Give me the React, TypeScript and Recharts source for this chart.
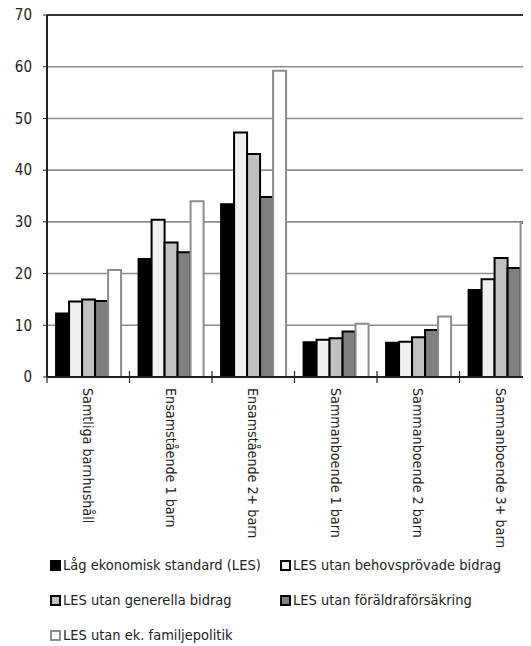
import React from 'react';
import { BarChart, Bar, XAxis, YAxis, CartesianGrid, ReferenceLine } from 'recharts';

const categories = [
  'Samtliga barnhushåll',
  'Ensamstående 1 barn',
  'Ensamstående 2+ barn',
  'Sammanboende 1 barn',
  'Sammanboende 2 barn',
  'Sammanboende 3+ barn',
];
const les = [12.3, 22.8, 33.4, 6.7, 6.6, 16.8];
const behov = [14.6, 30.4, 47.3, 7.2, 6.8, 18.9];
const generella = [15.0, 26.0, 43.1, 7.5, 7.7, 23.0];
const foraldra = [14.7, 24.1, 34.8, 8.8, 9.1, 21.1];
const familj = [20.7, 34.0, 59.2, 10.3, 11.7, 29.8];
const yTicks = [0, 10, 20, 30, 40, 50, 60, 70];

const seriesNames = [
  'Låg ekonomisk standard (LES)',
  'LES utan behovsprövade bidrag',
  'LES utan generella bidrag',
  'LES utan föräldraförsäkring',
  'LES utan ek. familjepolitik',
];

const data = categories.map((c, i) => ({
  name: c,
  s0: les[i],
  s1: behov[i],
  s2: generella[i],
  s3: foraldra[i],
  s4: familj[i],
}));

const FONT = '"Liberation Sans Narrow", "DejaVu Sans Condensed", "Roboto Condensed", sans-serif';

const seriesStyle = [
  { fill: '#000000', stroke: '#000000' },
  { fill: '#f0f0f0', stroke: '#000000' },
  { fill: '#c0c0c0', stroke: '#000000' },
  { fill: '#808080', stroke: '#000000' },
  { fill: '#ffffff', stroke: '#8c8c8c' },
];

const CatTick = (props: any) => {
  const { x, y, payload, width } = props;
  const band = width / categories.length;
  const lx = x - band / 2;
  return (
    <g>
      <line x1={lx} x2={lx} y1={y - 6} y2={y + 6} stroke="#222" strokeWidth={1.2} />
      <text
        x={x}
        y={y + 11}
        transform={`rotate(90, ${x}, ${y + 11})`}
        textAnchor="start"
        dy="0.36em"
        fontSize={14.2}
        fontFamily={FONT}
        fill="#222"
      >
        {payload.value}
      </text>
    </g>
  );
};

const legendPos = [
  { left: 42, top: 557 },
  { left: 272, top: 557 },
  { left: 42, top: 592 },
  { left: 272, top: 592 },
  { left: 42, top: 627 },
];

export default function App() {
  return (
    <div style={{ position: 'relative', top: -8, width: 523, height: 646, overflow: 'hidden', fontFamily: FONT }}>
      <BarChart
        width={540}
        height={547}
        data={data}
        margin={{ top: 15, right: 6, left: 0, bottom: 0 }}
        barCategoryGap="11%"
        barGap={0}
      >
        <CartesianGrid horizontal vertical={false} stroke="#8c8c8c" strokeWidth={1.6} />
        <YAxis
          width={39}
          domain={[0, 70]}
          ticks={yTicks}
          interval={0}
          tickSize={4}
          tickMargin={11}
          axisLine={{ stroke: '#222', strokeWidth: 2 }}
          tickLine={{ stroke: '#222' }}
          tick={{ fontSize: 15, fill: '#222', fontFamily: FONT }}
        />
        <XAxis
          dataKey="name"
          height={170}
          interval={0}
          tickSize={0}
          tickMargin={0}
          tickLine={false}
          axisLine={{ stroke: '#222', strokeWidth: 2 }}
          tick={<CatTick />}
        />
        <ReferenceLine y={70} stroke="#333" strokeWidth={2} />
        {seriesStyle.map((s, i) => (
          <Bar
            key={i}
            dataKey={`s${i}`}
            name={seriesNames[i]}
            fill={s.fill}
            stroke={s.stroke}
            strokeWidth={2}
            isAnimationActive={false}
          />
        ))}
      </BarChart>
      {seriesNames.map((n, i) => (
        <div
          key={i}
          style={{
            position: 'absolute',
            left: legendPos[i].left,
            top: legendPos[i].top,
            display: 'flex',
            alignItems: 'center',
            fontSize: 14.5,
            color: '#222',
            lineHeight: '16px',
            whiteSpace: 'nowrap',
          }}
        >
          <span
            style={{
              display: 'inline-block',
              width: 7,
              height: 7,
              background: seriesStyle[i].fill,
              border: `2px solid ${seriesStyle[i].stroke}`,
              marginRight: 2,
            }}
          />
          {n}
        </div>
      ))}
    </div>
  );
}
